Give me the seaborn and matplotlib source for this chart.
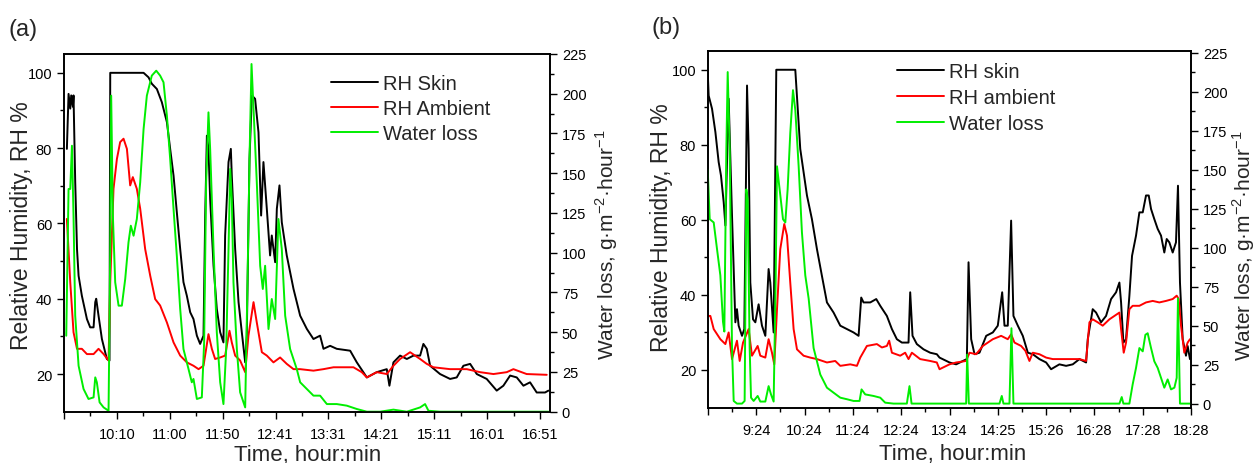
"""Skin / ambient humidity and water loss over time, two sessions"""

import matplotlib

matplotlib.use("Agg")
from matplotlib import pyplot as plt
from matplotlib.ticker import FixedLocator, MultipleLocator
import numpy as np
import pandas as pd
import seaborn as sns

# time is in minutes since midnight
# (a) RH skin, RH ambient (left axis, %) and water loss (right axis, g/m2/h)
a_skin = [(562.6, 79.8), (564.2, 94.4), (565.8, 90.5), (566.7, 94.0), (568.3, 91.0), (568.9, 94.0),
          (570.5, 71.0), (572.2, 53.2), (573.7, 46.1), (576.8, 40.8), (581.6, 34.6), (584.7, 32.4),
          (587.9, 32.4), (589.5, 39.1), (590.4, 40.0), (592.6, 35.5), (595.8, 29.3), (600.5, 24.0),
          (603.0, 23.6), (603.7, 100), (635.3, 100), (640.0, 98.8), (643.1, 97.1), (647.9, 95.7),
          (652.6, 92.2), (657.4, 86.9), (660.5, 79.8), (663.7, 72.7), (666.8, 63.0), (670.0, 53.2),
          (673.1, 44.4), (676.3, 40.8), (679.5, 36.4), (682.6, 34.6), (685.8, 30.2), (688.9, 28.0),
          (692.1, 30.2), (693.7, 62.1), (695.3, 83.3), (696.8, 79.8), (698.4, 66.5), (701.6, 48.8),
          (704.7, 37.3), (707.9, 31.1), (711.0, 28.4), (712.6, 56.8), (715.8, 76.3), (718.0, 79.8),
          (718.9, 72.7), (722.1, 53.2), (725.3, 39.1), (728.4, 31.1), (731.6, 23.1), (733.1, 30.2),
          (735.7, 77.1), (737.9, 94.0), (741.0, 93.1), (744.2, 84.2), (746.7, 62.1), (748.9, 76.3),
          (752.1, 63.9), (755.2, 51.5), (756.8, 56.8), (760.0, 49.7), (761.6, 63.9), (764.1, 70.1),
          (766.3, 60.3), (771.0, 51.5), (777.4, 42.6), (783.7, 35.5), (790.0, 32.0), (796.3, 29.3),
          (802.6, 30.2), (805.8, 26.7), (812.1, 27.5), (818.4, 26.7), (831.1, 26.2), (837.4, 23.1),
          (846.9, 19.1), (856.3, 20.5), (865.8, 21.3), (868.3, 16.9), (872.1, 23.1), (878.4, 24.9),
          (884.8, 24.0), (891.1, 24.9), (897.4, 24.9), (900.5, 28.0), (903.7, 26.7), (906.9, 22.2),
          (916.3, 20.0), (925.8, 18.7), (932.1, 19.1), (938.4, 22.2), (944.8, 22.7), (951.1, 20.0),
          (960.5, 18.7), (970.0, 15.6), (976.3, 16.9), (982.7, 19.6), (989.0, 19.1), (995.3, 16.9),
          (1001.6, 17.8), (1007.9, 15.1), (1015.8, 15.1), (1019.0, 15.6)]
a_ambient = [(562.6, 61.2), (565.8, 44.4), (568.9, 31.1), (572.2, 26.7), (576.8, 26.7), (581.6, 25.3),
             (587.9, 25.3), (592.6, 26.7), (597.4, 25.3), (602.1, 23.6), (603.7, 44.4), (606.8, 69.2),
             (610.0, 77.1), (613.1, 81.6), (616.3, 82.5), (619.5, 79.8), (622.6, 70.1), (625.1, 72.3),
             (628.9, 69.2), (632.1, 63.9), (636.8, 53.2), (641.6, 46.1), (646.3, 39.9), (651.0, 38.2),
             (657.4, 33.7), (663.7, 28.4), (670.0, 24.9), (676.3, 23.1), (682.6, 22.2), (687.4, 21.3),
             (692.1, 22.2), (696.8, 30.6), (700.0, 26.7), (703.1, 24.0), (707.9, 24.4), (712.6, 24.9),
             (716.7, 31.5), (718.9, 28.4), (722.1, 24.9), (726.8, 23.6), (731.6, 20.5), (734.7, 30.2),
             (739.5, 39.1), (742.6, 33.7), (747.4, 25.8), (752.1, 24.9), (758.4, 23.1), (764.7, 24.4),
             (771.0, 22.7), (777.4, 21.3), (783.7, 21.3), (796.3, 20.9), (805.8, 21.3), (815.3, 21.8),
             (824.8, 21.8), (834.2, 21.8), (842.1, 20.5), (846.9, 19.1), (856.3, 20.5), (865.8, 20.0),
             (872.1, 22.2), (878.4, 24.0), (887.9, 25.8), (897.4, 24.0), (903.7, 22.7), (910.0, 21.8),
             (925.8, 21.3), (941.6, 21.3), (954.2, 20.5), (966.9, 20.0), (979.5, 20.5), (985.8, 21.3),
             (998.4, 20.0), (1017.4, 19.8)]
a_loss = [(562.0, 47.8), (564.2, 140.1), (565.8, 140.1), (567.4, 167.3), (568.9, 123.3), (570.5, 60.4),
          (573.7, 28.9), (578.4, 14.3), (583.1, 8.0), (587.9, 9.0), (589.5, 21.6), (591.0, 18.5),
          (593.6, 5.9), (597.4, 2.7), (602.1, 0.6), (603.7, 102.3), (604.6, 198.8), (606.2, 123.3),
          (608.4, 81.4), (611.6, 66.7), (614.7, 66.7), (617.9, 83.5), (621.0, 106.5), (623.2, 117.0),
          (625.8, 110.7), (628.9, 121.2), (632.1, 144.3), (635.3, 177.8), (638.4, 198.8), (643.1, 211.4),
          (647.3, 214.5), (651.0, 211.4), (654.2, 207.2), (657.4, 186.2), (660.5, 159.0), (663.7, 127.5),
          (666.8, 98.1), (670.0, 64.6), (673.1, 39.4), (677.9, 26.8), (681.0, 18.5), (682.6, 20.6),
          (685.8, 8.0), (690.5, 9.0), (692.7, 43.6), (694.6, 144.3), (696.8, 188.3), (698.4, 165.2),
          (701.6, 102.3), (704.7, 49.9), (707.9, 18.5), (711.0, 4.8), (713.6, 39.4), (715.8, 102.3),
          (717.4, 152.7), (718.9, 133.8), (720.5, 81.4), (723.7, 39.4), (726.8, 12.2), (731.6, 2.7),
          (733.8, 81.4), (735.7, 159.0), (737.6, 218.7), (739.5, 190.4), (742.6, 144.3), (745.8, 91.8),
          (748.3, 77.2), (750.5, 91.8), (753.7, 52.0), (756.8, 70.9), (760.0, 58.3), (763.1, 121.2),
          (766.3, 102.3), (769.5, 60.4), (774.2, 39.4), (780.5, 26.8), (783.7, 18.5), (790.0, 14.3),
          (796.3, 10.1), (802.6, 10.1), (809.0, 4.8), (818.4, 4.8), (827.9, 3.8), (837.4, 1.7),
          (846.9, 0.0), (859.5, 0.0), (872.1, 1.3), (884.8, 0.0), (897.4, 2.7), (902.1, 4.8),
          (905.3, 0.6), (916.3, 0.0), (1019.0, 0.0)]

# (b)
b_skin = [(503.2, 99.4), (504.4, 93.1), (508.6, 89.6), (512.8, 83.4), (516.9, 75.4), (519.8, 71.8),
          (523.2, 64.7), (525.3, 58.5), (529.4, 92.3), (533.6, 61.1), (537.8, 32.7), (539.8, 36.2),
          (541.9, 31.8), (546.1, 29.1), (549.0, 30.9), (552.4, 95.8), (554.4, 78.9), (556.5, 43.3),
          (559.9, 33.5), (562.8, 32.7), (566.9, 37.5), (571.1, 31.8), (575.3, 29.1), (579.4, 46.9),
          (581.5, 43.3), (585.7, 30.0), (589.0, 100), (612.8, 100), (619.0, 78.9), (627.4, 66.5),
          (633.6, 60.2), (639.9, 52.2), (646.1, 45.1), (652.4, 38.0), (660.7, 35.3), (669.1, 31.8),
          (677.4, 30.9), (685.7, 30.0), (692.0, 29.1), (695.3, 39.3), (698.2, 38.0), (706.6, 38.0),
          (714.1, 38.9), (719.1, 37.1), (727.4, 34.4), (733.7, 30.9), (739.9, 28.2), (746.2, 27.3),
          (754.5, 27.3), (756.6, 40.7), (759.5, 29.1), (764.9, 26.9), (773.3, 25.5), (781.6, 24.6),
          (789.9, 24.2), (793.3, 23.3), (805.8, 22.0), (814.1, 21.5), (822.5, 22.4), (827.5, 22.9),
          (829.6, 48.7), (832.9, 28.2), (837.1, 24.2), (843.3, 24.6), (851.7, 29.1), (860.0, 30.0),
          (866.2, 31.8), (871.7, 40.7), (874.6, 31.8), (878.7, 31.8), (882.9, 59.8), (885.8, 34.4),
          (891.3, 31.8), (897.5, 29.1), (903.8, 24.6), (910.0, 24.2), (918.3, 22.9), (926.7, 22.0),
          (932.9, 20.2), (943.3, 21.5), (951.7, 21.1), (960.0, 21.5), (968.4, 22.9), (976.7, 22.0),
          (978.8, 28.2), (985.0, 36.2), (989.2, 35.3), (995.4, 32.7), (1001.7, 34.4), (1008.0, 38.9),
          (1014.2, 40.7), (1018.4, 43.3), (1020.5, 38.0), (1023.4, 27.3), (1026.7, 28.2), (1030.9, 39.8),
          (1034.2, 50.4), (1039.2, 55.8), (1043.4, 62.0), (1047.6, 62.0), (1051.7, 66.5), (1055.1, 66.5),
          (1058.0, 62.9), (1062.1, 60.2), (1066.3, 57.6), (1070.5, 55.8), (1074.6, 51.3), (1077.6, 54.9),
          (1080.9, 54.0), (1085.1, 51.3), (1089.2, 54.0), (1091.7, 69.1), (1094.2, 43.3), (1097.6, 28.2),
          (1101.7, 23.8), (1103.8, 26.4), (1106.7, 22.9)]
b_ambient = [(503.2, 34.4), (506.5, 34.4), (510.7, 30.9), (519.0, 28.2), (525.3, 26.9), (529.4, 30.0),
             (533.6, 22.9), (539.8, 27.8), (543.2, 22.4), (547.4, 27.3), (554.4, 30.9), (558.6, 23.8),
             (565.7, 26.4), (569.0, 23.8), (575.3, 23.3), (579.4, 28.2), (583.6, 24.6), (586.5, 21.5),
             (589.9, 36.2), (594.0, 52.2), (599.0, 58.9), (602.4, 55.8), (606.5, 43.3), (610.7, 30.9),
             (614.9, 25.5), (623.2, 23.8), (631.5, 23.3), (639.9, 22.9), (652.4, 22.0), (662.8, 22.4),
             (669.1, 21.1), (681.6, 21.5), (689.9, 21.1), (694.1, 23.3), (702.4, 26.4), (714.9, 26.9),
             (721.2, 26.0), (727.4, 26.4), (730.3, 27.8), (733.7, 24.6), (744.1, 23.8), (750.3, 24.6),
             (754.5, 22.9), (758.7, 24.6), (769.1, 22.9), (781.6, 22.4), (789.9, 22.0), (793.3, 20.2),
             (805.8, 21.5), (814.1, 22.0), (826.6, 22.4), (830.8, 24.6), (839.1, 24.2), (847.5, 26.4),
             (860.0, 28.2), (870.4, 29.1), (878.7, 28.2), (882.9, 29.5), (887.1, 27.3), (895.4, 26.4),
             (900.8, 25.1), (905.8, 22.4), (910.0, 24.6), (918.3, 24.2), (926.7, 23.3), (935.0, 22.9),
             (951.7, 22.9), (968.4, 22.9), (976.7, 22.4), (980.9, 32.7), (985.0, 33.5), (991.3, 32.7),
             (997.5, 31.8), (1005.9, 33.5), (1018.4, 35.3), (1020.5, 30.9), (1023.8, 24.6), (1026.7, 27.3),
             (1030.9, 36.2), (1035.0, 37.1), (1043.4, 37.1), (1051.7, 38.0), (1060.1, 38.4), (1068.4, 38.0),
             (1076.7, 38.4), (1085.1, 38.9), (1090.1, 39.8), (1092.6, 38.9), (1095.5, 31.8), (1099.6, 24.6),
             (1103.8, 27.3), (1106.7, 28.2)]
b_loss = [(503.2, 150.0), (505.7, 118.2), (510.7, 116.1), (514.8, 99.2), (519.0, 82.2), (522.3, 52.5),
          (524.0, 46.2), (526.5, 162.7), (528.2, 212.5), (530.7, 162.7), (533.6, 35.6), (535.7, 1.7),
          (539.8, 0.0), (546.1, 0.0), (549.4, 1.7), (551.5, 137.3), (553.2, 131.0), (555.7, 35.6),
          (557.4, 3.8), (560.7, 1.7), (565.7, 4.9), (569.0, 1.3), (575.3, 1.3), (579.4, 11.2),
          (582.4, 5.9), (585.7, 1.3), (588.2, 78.0), (589.9, 152.1), (593.2, 137.3), (597.4, 118.2),
          (600.3, 116.1), (603.2, 137.3), (606.5, 173.3), (609.9, 200.9), (612.8, 188.2), (617.0, 152.1),
          (621.1, 109.8), (625.3, 82.2), (629.5, 67.4), (635.7, 35.6), (644.1, 18.6), (652.4, 10.2),
          (660.7, 7.0), (669.1, 3.8), (677.4, 2.8), (685.7, 1.7), (693.2, 1.7), (695.7, 9.1),
          (700.3, 5.9), (710.7, 4.9), (719.1, 3.8), (725.3, 0.6), (735.7, 0.0), (752.4, 0.0),
          (755.7, 11.2), (758.3, 0.0), (826.6, 0.0), (827.9, 31.4), (830.0, 0.0), (868.3, 0.0),
          (871.2, 4.9), (873.3, 0.0), (880.8, 0.0), (883.3, 48.3), (885.8, 0.0), (1018.4, 0.0),
          (1021.3, 4.2), (1023.4, 0.0), (1030.9, 0.0), (1035.0, 12.3), (1039.2, 22.9), (1043.4, 35.6),
          (1047.6, 33.5), (1050.9, 44.1), (1053.8, 45.1), (1058.0, 35.6), (1062.1, 27.1), (1066.3, 22.9),
          (1070.5, 16.5), (1074.6, 10.2), (1078.8, 15.5), (1083.0, 9.1), (1087.2, 10.2), (1090.1, 16.5),
          (1091.7, 67.4), (1094.2, 0.0), (1106.7, 0.0)]

a_names = ["RH Skin", "RH Ambient", "Water loss"]
b_names = ["RH skin", "RH ambient", "Water loss"]
a_ticks = ["10:10", "11:00", "11:50", "12:41", "13:31", "14:21", "15:11", "16:01", "16:51"]
b_ticks = ["9:24", "10:24", "11:24", "12:24", "13:24", "14:25", "15:26", "16:28", "17:28", "18:28"]

COLORS = ["black", "#ff0000", "#00ee00"]


def to_min(s):
    h, m = s.split(":")
    return int(h) * 60 + int(m)


def series_df(pairs):
    return pd.DataFrame(pairs, columns=["t", "v"])


def style_axis(ax):
    ax.tick_params(which="both", direction="out", width=1.0, labelsize=10.5, colors="black")
    ax.tick_params(which="major", length=5)
    ax.tick_params(which="minor", length=3)
    for sp in ax.spines.values():
        sp.set_linewidth(1.2)
        sp.set_color("black")


def draw_panel(ax, tag, skin, ambient, loss, names, ticks, right_pad, wl_lim, layout):
    ax2 = ax.twinx()
    for pairs, name, color, target in zip(
        [skin, ambient, loss], names, COLORS, [ax, ax, ax2]
    ):
        sns.lineplot(
            data=series_df(pairs), x="t", y="v", ax=target, color=color,
            lw=1.4, sort=False, estimator=None, label=name, legend=False,
        )

    # ticks from the labels; spacing is regular on the original axis
    pos = np.linspace(to_min(ticks[0]), to_min(ticks[-1]), len(ticks))
    step = pos[1] - pos[0]
    major = np.concatenate([[pos[0] - step], pos])
    ax.set_xlim(major[0], pos[-1] + right_pad)
    ax.xaxis.set_major_locator(FixedLocator(major))
    ax.set_xticklabels([""] + ticks)
    ax.xaxis.set_minor_locator(FixedLocator(major[:-1] + step / 2))

    ax.set_ylim(10, 105)
    ax.yaxis.set_major_locator(FixedLocator([20, 40, 60, 80, 100]))
    ax.yaxis.set_minor_locator(FixedLocator([30, 50, 70, 90]))
    ax2.set_ylim(*wl_lim)
    ax2.yaxis.set_major_locator(MultipleLocator(25))
    ax2.yaxis.set_minor_locator(MultipleLocator(12.5))
    style_axis(ax)
    style_axis(ax2)
    ax.tick_params(axis="x", pad=6)

    ax.set_xlabel("Time, hour:min", fontsize=16, va="center")
    ax.xaxis.set_label_coords(*layout["xlabel"])
    ax.set_ylabel("Relative Humidity, RH %", fontsize=16.5, va="center")
    ax.yaxis.set_label_coords(*layout["ylabel"])
    ax2.set_ylabel("Water loss, g·m$^{-2}$·hour$^{-1}$", fontsize=15, va="center")
    ax2.yaxis.set_label_coords(*layout["ylabel2"])

    h1, l1 = ax.get_legend_handles_labels()
    h2, l2 = ax2.get_legend_handles_labels()
    ax2.legend(
        h1 + h2, l1 + l2, loc="upper left", bbox_to_anchor=layout["legend"],
        frameon=False, fontsize=14.5, handlelength=2.35, handletextpad=0.25,
        labelspacing=layout["spacing"], borderpad=0, borderaxespad=0,
    )
    tx, ty = layout["tag"]
    ax.text(tx, ty, tag, transform=ax.transAxes, fontsize=17, ha="left", va="center")
    return ax2


sns.set_style("ticks")
plt.rcParams["font.family"] = ["Liberation Sans", "DejaVu Sans"]
plt.rcParams["mathtext.fontset"] = "custom"
plt.rcParams["mathtext.rm"] = "Liberation Sans"

fig = plt.figure(figsize=(12.56, 4.64), dpi=100)
ax_a = fig.add_axes([64 / 1256, 1 - 412.7 / 464, 486 / 1256, 357.7 / 464])
ax_b = fig.add_axes([708 / 1256, 1 - 408.5 / 464, 483 / 1256, 356.5 / 464])

draw_panel(
    ax_a, "(a)", a_skin, a_ambient, a_loss, a_names, a_ticks, 9.5, (0, 225),
    {"xlabel": (0.501, -0.119), "ylabel": (-0.088, 0.522), "ylabel2": (1.117, 0.469),
     "legend": (0.549, 0.944), "spacing": 0.3, "tag": (-0.115, 1.070)},
)
draw_panel(
    ax_b, "(b)", b_skin, b_ambient, b_loss, b_names, b_ticks, 0, (-2.5, 226),
    {"xlabel": (0.507, -0.130), "ylabel": (-0.097, 0.506), "ylabel2": (1.109, 0.456),
     "legend": (0.391, 0.969), "spacing": 0.35, "tag": (-0.116, 1.067)},
)

fig.savefig("out.png", dpi=100)
